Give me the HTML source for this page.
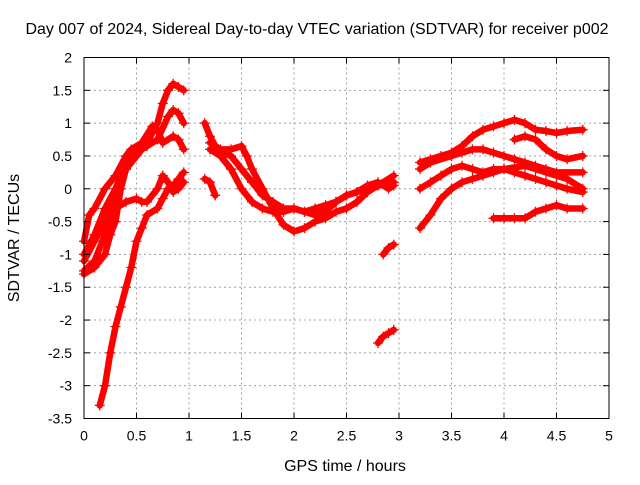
<!DOCTYPE html>
<html><head><meta charset="utf-8"><style>
body{margin:0;background:#fff;}
svg text{font-family:"Liberation Sans",sans-serif;font-size:14px;fill:#000;}
svg text.big{font-size:16px;}
</style></head><body>
<svg id="chart" width="640" height="480" xmlns="http://www.w3.org/2000/svg">
<text class="big" x="317" y="34" text-anchor="middle">Day 007 of 2024, Sidereal Day-to-day VTEC variation (SDTVAR) for receiver p002</text>
<text class="big" x="345" y="471" text-anchor="middle">GPS time / hours</text>
<text class="big" transform="translate(19,238) rotate(-90)" text-anchor="middle">SDTVAR / TECUs</text>
<g id="grid"></g><g id="marks"></g><g id="axes"></g>
</svg>
<script>
const xTicks=[0,0.5,1,1.5,2,2.5,3,3.5,4,4.5,5];
const yTicks=[2,1.5,1,0.5,0,-0.5,-1,-1.5,-2,-2.5,-3,-3.5];
const s1x=[0.15,0.2,0.25,0.3,0.35,0.4,0.45,0.5,0.55,0.6,0.7,0.75,0.8,0.85,0.9,0.95];
const s1y=[-3.3,-3.0,-2.5,-2.1,-1.8,-1.5,-1.2,-0.8,-0.6,-0.4,-0.3,-0.15,0.0,0.05,0.15,0.25];
const s2x=[0,0.1,0.2,0.3,0.4,0.5,0.6,0.7,0.75,0.8,0.85,0.9,0.95];
const s2y=[-1.1,-0.8,-0.5,-0.1,0.3,0.5,0.7,1.0,1.3,1.5,1.6,1.55,1.5];
const s3x=[0,0.1,0.2,0.3,0.4,0.5,0.6,0.7,0.8,0.85,0.9,0.95];
const s3y=[-1.0,-0.7,-0.3,0.0,0.4,0.55,0.65,0.75,1.1,1.2,1.15,1.0];
const s4x=[0,0.05,0.1,0.2,0.3,0.4,0.45,0.55,0.65,0.7,0.75,0.85,0.9,0.95];
const s4y=[-0.8,-0.4,-0.3,0.0,0.2,0.5,0.6,0.7,0.95,0.9,0.7,0.8,0.75,0.6];
const s5x=[0,0.1,0.2,0.3,0.4,0.5,0.55,0.6,0.7,0.75,0.8,0.85,0.9,0.95];
const s5y=[-1.25,-1.1,-0.7,-0.3,-0.2,-0.15,-0.2,-0.2,0.0,0.2,0.1,-0.05,0.0,0.1];
const s6x=[0,0.1,0.2,0.25,0.3,0.35,0.4,0.45,0.5];
const s6y=[-1.3,-1.2,-1.0,-0.7,-0.5,0.0,0.3,0.55,0.6];
const sAx=[1.15,1.2,1.25,1.3,1.4,1.5,1.6,1.7,1.8,1.9,2.0,2.1,2.2,2.3,2.4,2.5,2.6,2.7,2.8,2.95];
const sAy=[1.0,0.8,0.65,0.55,0.5,0.3,0.1,-0.1,-0.2,-0.3,-0.3,-0.35,-0.3,-0.25,-0.2,-0.1,-0.05,0.0,0.05,0.1];
const sBx=[1.2,1.3,1.4,1.5,1.55,1.6,1.7,1.8,1.9,2.0,2.1,2.2,2.3,2.4,2.5,2.6,2.7,2.8,2.95];
const sBy=[0.7,0.6,0.6,0.65,0.5,0.3,0.0,-0.3,-0.55,-0.65,-0.6,-0.5,-0.45,-0.35,-0.3,-0.2,-0.05,0.05,0.2];
const sCx=[1.2,1.3,1.4,1.5,1.6,1.7,1.8,1.9,2.0,2.1,2.2,2.3,2.4,2.5,2.6,2.7,2.8,2.9,2.95];
const sCy=[0.6,0.5,0.3,0.0,-0.2,-0.3,-0.35,-0.35,-0.3,-0.35,-0.4,-0.35,-0.2,-0.1,-0.05,0.05,0.1,0.0,0.05];
const sDx=[1.15,1.2,1.25];
const sDy=[0.15,0.1,-0.1];
const sEx=[2.8,2.85,2.9,2.95];
const sEy=[-2.35,-2.25,-2.2,-2.15];
const sFx=[2.85,2.9,2.95];
const sFy=[-1.0,-0.9,-0.85];
const sGx=[3.2,3.3,3.4,3.5,3.6,3.7,3.8,3.9,4.0,4.1,4.2,4.3,4.4,4.5,4.6,4.75];
const sGy=[0.4,0.45,0.5,0.55,0.65,0.8,0.9,0.95,1.0,1.05,1.0,0.9,0.88,0.85,0.88,0.9];
const sHx=[4.1,4.2,4.3,4.4,4.5,4.6,4.75];
const sHy=[0.75,0.8,0.75,0.6,0.5,0.45,0.5];
const sIx=[3.2,3.3,3.5,3.6,3.7,3.8,3.9,4.0,4.1,4.2,4.3,4.4,4.5,4.75];
const sIy=[0.3,0.4,0.5,0.55,0.6,0.6,0.55,0.5,0.45,0.4,0.35,0.3,0.25,0.25];
const sJx=[3.2,3.3,3.4,3.5,3.6,3.7,3.8,3.9,4.0,4.1,4.2,4.3,4.4,4.5,4.6,4.75];
const sJy=[0.0,0.1,0.2,0.3,0.35,0.3,0.25,0.3,0.3,0.25,0.2,0.15,0.1,0.05,0.0,-0.05];
const sKx=[3.2,3.3,3.4,3.5,3.6,3.7,3.8,3.9,4.0,4.2,4.3,4.4,4.5,4.6,4.75];
const sKy=[-0.6,-0.4,-0.15,0.0,0.1,0.15,0.2,0.25,0.3,0.35,0.3,0.25,0.2,0.15,0.0];
const sLx=[3.9,4.0,4.1,4.2,4.3,4.4,4.5,4.6,4.75];
const sLy=[-0.45,-0.45,-0.45,-0.45,-0.35,-0.3,-0.25,-0.3,-0.3];
const seriesX=[s1x,s2x,s3x,s4x,s5x,s6x,sAx,sBx,sCx,sDx,sEx,sFx,sGx,sHx,sIx,sJx,sKx,sLx];
const seriesY=[s1y,s2y,s3y,s4y,s5y,s6y,sAy,sBy,sCy,sDy,sEy,sFy,sGy,sHy,sIy,sJy,sKy,sLy];

const L=84,R=609,T=57.5,B=418.5;
const xMin=0,xMax=5,yMin=-3.5,yMax=2;
function X(v){return L+(v-xMin)/(xMax-xMin)*(R-L);}
function Y(v){return B-(v-yMin)/(yMax-yMin)*(B-T);}
const NS='http://www.w3.org/2000/svg';
function mk(tag,attrs,parent){const e=document.createElementNS(NS,tag);for(const k in attrs)e.setAttribute(k,attrs[k]);parent.appendChild(e);return e;}
const grid=document.getElementById('grid'),axes=document.getElementById('axes'),marks=document.getElementById('marks');
xTicks.forEach(t=>{
  const x=X(t);
  if(t>xMin&&t<xMax){const g=mk('line',{x1:x,x2:x,y1:T,y2:B,stroke:'#a0a0a0','stroke-dasharray':'2,3'},grid);
  
  }
  mk('line',{x1:x,x2:x,y1:B,y2:B-6,stroke:'#000'},axes);
  mk('line',{x1:x,x2:x,y1:T,y2:T+6,stroke:'#000'},axes);
  const tx=mk('text',{x:x,y:B+22,'text-anchor':'middle'},axes);tx.textContent=String(t);
  
  
});
yTicks.forEach(t=>{
  const y=Y(t);
  if(t>yMin&&t<yMax){const g=mk('line',{x1:L,x2:R,y1:y,y2:y,stroke:'#a0a0a0','stroke-dasharray':'2,3'},grid);
  
  }
  mk('line',{x1:L,x2:L+6,y1:y,y2:y,stroke:'#000'},axes);
  mk('line',{x1:R,x2:R-6,y1:y,y2:y,stroke:'#000'},axes);
  const tx=mk('text',{x:L-12,y:y+5,'text-anchor':'end'},axes);tx.textContent=String(t);
  
  
});
const frame=mk('rect',{x:L,y:T,width:R-L,height:B-T,fill:'none',stroke:'#000'},axes);


seriesX.forEach((xs,i)=>{
  const ys=seriesY[i];
  const g=mk('g',{},marks);
  
  
  const pts=xs.map((x,j)=>X(x)+','+Y(ys[j])).join(' ');
  mk('polyline',{points:pts,fill:'none',stroke:'#ff0000','stroke-width':6.5,'stroke-linejoin':'round','stroke-linecap':'round'},g);
  xs.forEach((x,j)=>{
    const cx=X(x),cy=Y(ys[j]);
    const p=mk('path',{d:`M${cx-5},${cy}H${cx+5}M${cx},${cy-5}V${cy+5}`,stroke:'#ff0000','stroke-width':1.3},g);
    
    
  });
});
</script>
</body></html>
